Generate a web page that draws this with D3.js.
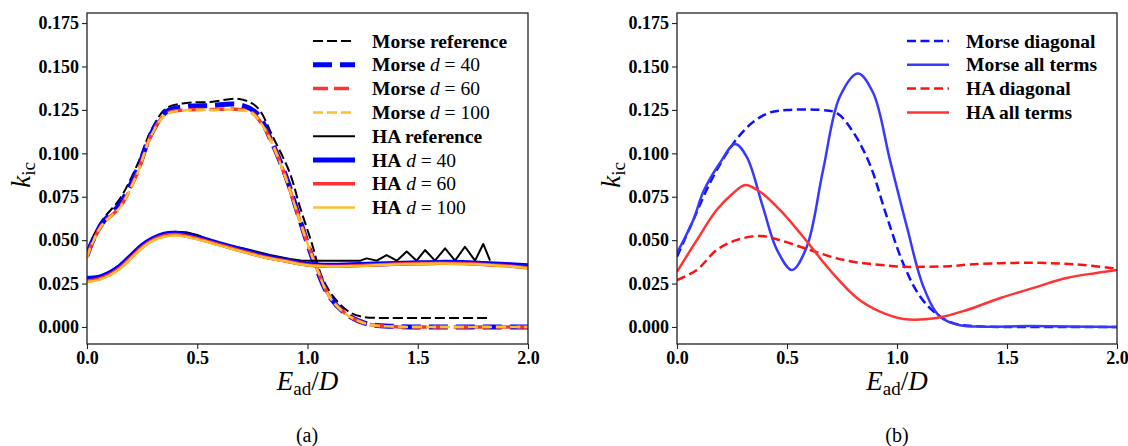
<!DOCTYPE html>
<html><head><meta charset="utf-8">
<script src="https://cdn.jsdelivr.net/npm/d3@7"></script>
<style>
body{margin:0;background:#fff}svg{display:block}
</style>
</head><body>
<svg id="c" width="1128" height="446"></svg>
<script>
// ---- data ----
const xTicks = [0, 0.5, 1.0, 1.5, 2.0];
const yTicks = [0, 0.025, 0.05, 0.075, 0.1, 0.125, 0.15, 0.175];

// panel (a)
const morseRefX = [0,0.02,0.07,0.15,0.23,0.29,0.36,0.45,0.56,0.69,0.77,0.845,0.92,0.966,1.02,1.065,1.12,1.19,1.25,1.35,1.5,1.65,1.82];
const morseRefY = [0.043,0.050,0.0616,0.074,0.094,0.113,0.126,0.129,0.1295,0.1313,0.1267,0.109,0.0886,0.069,0.048,0.029,0.017,0.0086,0.0058,0.0052,0.0052,0.0052,0.0052];
const morse40X = [0,0.02,0.07,0.15,0.23,0.29,0.36,0.45,0.56,0.69,0.77,0.84,0.91,0.95,1.0,1.04,1.1,1.18,1.27,1.4,1.6,1.8,2.0];
const morse40Y = [0.041,0.048,0.060,0.071,0.091,0.111,0.124,0.127,0.1275,0.128,0.123,0.106,0.084,0.068,0.048,0.034,0.0175,0.007,0.0018,0.0003,0,0,0];
const morse60X = [0,0.02,0.07,0.15,0.23,0.29,0.36,0.45,0.56,0.69,0.75,0.815,0.905,0.935,1.0,1.04,1.1,1.18,1.27,1.4,1.6,1.8,2.0];
const morse60Y = [0.0402,0.0472,0.0592,0.0692,0.0892,0.1102,0.1228,0.125,0.1252,0.1252,0.1232,0.1122,0.0848,0.0732,0.0482,0.0348,0.0175,0.007,0.0018,0.0002,0,0,0];
const morse100X = [0,0.02,0.07,0.15,0.23,0.29,0.36,0.45,0.56,0.69,0.75,0.815,0.905,0.935,1.0,1.04,1.1,1.18,1.27,1.4,1.6,1.8,2.0];
const morse100Y = [0.040,0.047,0.059,0.069,0.089,0.110,0.1225,0.1248,0.125,0.125,0.123,0.112,0.0846,0.073,0.048,0.0346,0.0173,0.0069,0.0017,0.0002,0,0,0];
const haRefX = [0,0.05,0.1,0.15,0.2,0.25,0.3,0.35,0.4,0.45,0.5,0.6,0.7,0.74,0.83,0.92,0.97,1.0,1.1,1.2,1.24,1.268,1.314,1.359,1.405,1.45,1.495,1.533,1.578,1.624,1.669,1.714,1.76,1.797,1.828];
const haRefY = [0.028,0.029,0.0315,0.036,0.042,0.0475,0.0515,0.054,0.0548,0.0545,0.053,0.048,0.0455,0.0443,0.0414,0.0392,0.0383,0.0382,0.0382,0.0382,0.0382,0.0395,0.0382,0.0414,0.0382,0.0434,0.0382,0.0443,0.0382,0.0453,0.0382,0.0462,0.0382,0.0478,0.0382];
const haX = [0,0.05,0.1,0.15,0.2,0.25,0.3,0.35,0.4,0.45,0.5,0.6,0.7,0.8,0.9,1.0,1.1,1.2,1.3,1.4,1.5,1.6,1.7,1.8,1.9,2.0];
const ha40Y = [0.028,0.0285,0.031,0.035,0.041,0.047,0.051,0.0535,0.054,0.053,0.0515,0.048,0.0445,0.041,0.0385,0.0362,0.0355,0.0358,0.0362,0.0366,0.037,0.0372,0.0371,0.0366,0.036,0.0352];
const ha60Y = [0.0265,0.0275,0.030,0.034,0.040,0.046,0.0502,0.0525,0.0532,0.0524,0.051,0.0474,0.0438,0.0405,0.038,0.0357,0.035,0.0352,0.0357,0.0362,0.0365,0.0367,0.0365,0.036,0.0352,0.034];
const ha100Y = [0.026,0.027,0.0295,0.0335,0.0395,0.0455,0.0497,0.052,0.0527,0.052,0.0505,0.047,0.0435,0.0402,0.0378,0.0355,0.0348,0.035,0.0355,0.036,0.0363,0.0365,0.0363,0.0358,0.035,0.0338];

// panel (b)
const morseDiagX = [0,0.074,0.15,0.226,0.286,0.346,0.42,0.5,0.65,0.726,0.8,0.877,0.95,1.03,1.105,1.18,1.255,1.35,1.5,1.75,2.0];
const morseDiagY = [0.0405,0.0616,0.083,0.100,0.1105,0.118,0.1234,0.1249,0.125,0.1232,0.1124,0.0935,0.065,0.036,0.0175,0.0075,0.0022,0.0005,0,0,0];
const morseAllX = [0,0.074,0.12,0.195,0.264,0.317,0.39,0.455,0.523,0.59,0.664,0.74,0.823,0.892,0.968,1.045,1.12,1.195,1.286,1.4,1.6,2.0];
const morseAllY = [0.0426,0.0616,0.078,0.0944,0.1054,0.098,0.0693,0.0443,0.0328,0.0462,0.0904,0.1326,0.146,0.1347,0.0961,0.0577,0.0232,0.006,0.001,0.0002,0.0005,0];
const haDiagX = [0,0.09,0.18,0.27,0.377,0.468,0.56,0.605,0.727,0.83,0.93,1.03,1.24,1.33,1.47,1.62,1.75,1.85,1.98,2.0];
const haDiagY = [0.027,0.0328,0.0443,0.050,0.0524,0.050,0.0462,0.0443,0.0395,0.037,0.0357,0.0347,0.035,0.036,0.0367,0.037,0.0365,0.0357,0.0338,0.0335];
const haAllX = [0,0.09,0.18,0.255,0.31,0.377,0.468,0.573,0.695,0.818,0.923,1.03,1.18,1.318,1.47,1.62,1.77,1.9,2.0];
const haAllY = [0.0318,0.050,0.0674,0.077,0.0818,0.0779,0.0674,0.052,0.0328,0.0167,0.0088,0.0046,0.0052,0.0098,0.0167,0.0225,0.0282,0.031,0.0328];

const seriesA = [
  {pre:"Morse reference", d:null, x:morseRefX, y:morseRefY, color:"#000", w:2, dash:"10,4", curve:"smooth"},
  {pre:"Morse", d:"40", x:morse40X, y:morse40Y, color:"#0000ff", w:5, dash:"19,8", curve:"smooth"},
  {pre:"Morse", d:"60", x:morse60X, y:morse60Y, color:"#ff3333", w:3.5, dash:"15,6", curve:"smooth"},
  {pre:"Morse", d:"100", x:morse100X, y:morse100Y, color:"#ffbf30", w:2.5, dash:"10,4", curve:"smooth"},
  {pre:"HA reference", d:null, x:haRefX, y:haRefY, color:"#000", w:2, dash:null, curve:"linear"},
  {pre:"HA", d:"40", x:haX, y:ha40Y, color:"#0000ff", w:5, dash:null, curve:"smooth"},
  {pre:"HA", d:"60", x:haX, y:ha60Y, color:"#ff3333", w:3.5, dash:null, curve:"smooth"},
  {pre:"HA", d:"100", x:haX, y:ha100Y, color:"#ffbf30", w:2.5, dash:null, curve:"smooth"}
];
const seriesB = [
  {pre:"Morse diagonal", d:null, x:morseDiagX, y:morseDiagY, color:"#1010ff", w:2.5, dash:"9,4.5", curve:"smooth"},
  {pre:"Morse all terms", d:null, x:morseAllX, y:morseAllY, color:"#3838ff", w:2.5, dash:null, curve:"smooth"},
  {pre:"HA diagonal", d:null, x:haDiagX, y:haDiagY, color:"#ff1010", w:2.5, dash:"9,4.5", curve:"smooth"},
  {pre:"HA all terms", d:null, x:haAllX, y:haAllY, color:"#ff3535", w:2.5, dash:null, curve:"smooth"}
];

// pick an installed serif face, if any
function pickSerif() {
  const cands = ["Liberation Serif","Times New Roman","Tinos","DejaVu Serif","Noto Serif","FreeSerif","Nimbus Roman","Times","Georgia"];
  const ctx = document.createElement("canvas").getContext("2d");
  const s = "mmmwwwlliiOO0.175 Morse reference HA";
  const base = {};
  ["monospace","sans-serif"].forEach(b => { ctx.font = `40px ${b}`; base[b] = ctx.measureText(s).width; });
  for (const f of cands) {
    let found = true;
    for (const b of ["monospace","sans-serif"]) {
      ctx.font = `40px "${f}", ${b}`;
      if (Math.abs(ctx.measureText(s).width - base[b]) < 0.01) { found = false; break; }
    }
    if (found) return `"${f}", serif`;
  }
  return "serif";
}
const FONT = pickSerif();

const svg = d3.select("#c");

function panel(left, right, series, legX, caption, centerX) {
  const top = 13, bottom = 344;
  const x = d3.scaleLinear().domain([0, 2]).range([left, right]);
  const y = d3.scaleLinear().domain([-0.0098, 0.1808]).range([bottom, top]);
  const g = svg.append("g");
  const clip = "clip" + left;
  g.append("clipPath").attr("id", clip).append("rect")
    .attr("x", left).attr("y", top).attr("width", right-left).attr("height", bottom-top);
  const lines = g.append("g").attr("clip-path", `url(#${clip})`);
  series.forEach(s => {
    const pts = s.x.map((v,i)=>[v, s.y[i]]);
    const line = d3.line().x(d=>x(d[0])).y(d=>y(d[1]))
      .curve(s.curve === "linear" ? d3.curveLinear : d3.curveCatmullRom.alpha(0.5));
    lines.append("path").attr("d", line(pts)).attr("fill","none")
      .attr("stroke", s.color).attr("stroke-width", s.w)
      .attr("stroke-dasharray", s.dash).attr("stroke-linejoin","round");
  });
  // axes
  const xa = g.append("g").attr("transform", `translate(0,${bottom})`)
    .call(d3.axisBottom(x).tickValues(xTicks).tickFormat(d3.format(".1f")).tickSize(5).tickPadding(2));
  const ya = g.append("g").attr("transform", `translate(${left},0)`)
    .call(d3.axisLeft(y).tickValues(yTicks).tickFormat(d3.format(".3f")).tickSize(5).tickPadding(3));
  [xa, ya].forEach(a => {
    a.attr("font-family", null);
    a.select(".domain").remove();
    a.selectAll("line").attr("stroke","#222").attr("stroke-width",1.1);
    a.selectAll("text").attr("font-weight","bold").attr("font-size", 18).attr("fill","#000");
  });
  g.append("rect").attr("x", left).attr("y", top).attr("width", right-left).attr("height", bottom-top)
    .attr("fill","none").attr("stroke","#222").attr("stroke-width",1.3);
  // x label
  const xl = g.append("text").attr("x", (left+right)/2).attr("y", 390)
    .attr("text-anchor","middle").attr("font-size", 27);
  xl.append("tspan").attr("font-style","italic").text("E");
  xl.append("tspan").attr("font-size", 19).attr("dy", 5).text("ad");
  xl.append("tspan").attr("dy", -5).text("/");
  xl.append("tspan").attr("font-style","italic").text("D");
  // y label
  const yl = g.append("text").attr("transform", `translate(${left-57},175) rotate(-90)`)
    .attr("text-anchor","middle").attr("font-size", 27);
  yl.append("tspan").attr("font-style","italic").text("k");
  yl.append("tspan").attr("font-size", 19).attr("dy", 5).text("ic");
  // caption
  svg.append("text").attr("x", centerX).attr("y", 442).attr("text-anchor","middle")
    .attr("font-size", 20).text(caption);
  // legend
  const lg = g.append("g");
  series.forEach((s, i) => {
    const yy = 41 + i*23.8;
    lg.append("line").attr("x1", legX).attr("x2", legX + 42).attr("y1", yy).attr("y2", yy)
      .attr("stroke", s.color).attr("stroke-width", s.w).attr("stroke-dasharray", s.dash);
    const t = lg.append("text").attr("x", legX + 59).attr("y", yy + 6.5)
      .attr("font-size", 19.5).attr("fill","#000");
    t.append("tspan").attr("font-weight","bold").text(s.pre);
    if (s.d) {
      t.append("tspan").attr("font-style","italic").text(" d");
      t.append("tspan").text(" = " + s.d);
    }
  });
}

panel(87, 528, seriesA, 313, "(a)", 307);
panel(677, 1117, seriesB, 907, "(b)", 897);
svg.selectAll("text").style("font-family", FONT);
</script>
</body></html>
